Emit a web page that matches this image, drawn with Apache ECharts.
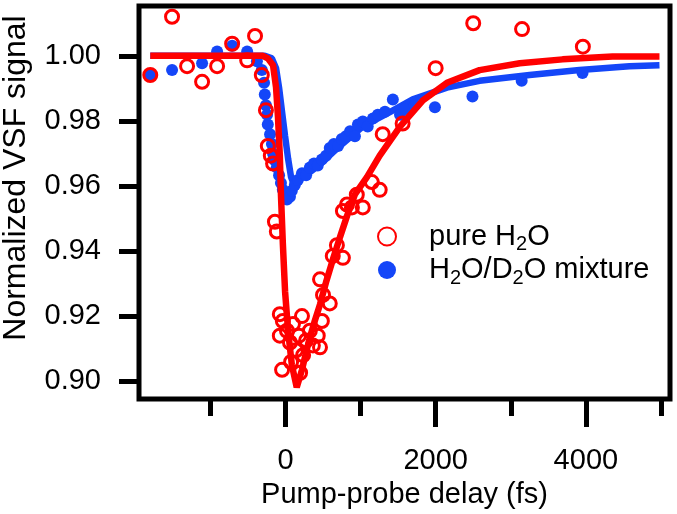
<!DOCTYPE html>
<html>
<head>
<meta charset="utf-8">
<script src="https://cdn.jsdelivr.net/npm/echarts@6/dist/echarts.min.js"></script>
<style>
html,body{margin:0;padding:0;background:#fff;}
#chart{width:677px;height:514px;}
</style>
</head>
<body>
<div id="chart"></div>
<script>
// ---- data ----
const pureX = [-1800,-1510,-1310,-1110,-910,-710,-510,-405,-315,-260,-235,-195,-165,-140,-115,-75,-35,-75,20,60,100,140,180,220,235,275,325,365,430,460,-45,195,75,485,460,500,590,630,685,765,765,820,885,950,1030,1150,1255,1295,1560,2000,2500,3150,3960];
const pureY = [0.9941,1.0120,0.9968,0.9920,0.9968,1.0037,0.9986,1.0061,0.9941,0.9833,0.9723,0.9693,0.9669,0.9490,0.9460,0.9206,0.9185,0.9140,0.9155,0.9119,0.9176,0.9095,0.9140,0.9200,0.9080,0.9125,0.9155,0.9110,0.9140,0.9104,0.9035,0.9026,0.9059,0.9185,0.9313,0.9265,0.9239,0.9385,0.9418,0.9379,0.9523,0.9543,0.9534,0.9573,0.9534,0.9612,0.9588,0.9759,0.9792,0.9962,1.0100,1.0082,1.0028];

const mixX = [-1800,-1510,-1110,-910,-710,-510,-380,-315,-285,-275,-260,-245,-235,-205,-180,-165,-140,-115,-85,-60,-35,-5,20,60,85,125,165,220,275,325,380,430,485,540,590,645,700,750,805,860,925,965,1030,1095,1165,1230,1325,1430,1525,1590,1720,1990,2490,3145,3955];
const mixY = [0.9941,0.9956,0.9977,1.0013,1.0031,1.0013,0.9983,0.9956,0.9917,0.9881,0.9848,0.9819,0.9789,0.9759,0.9729,0.9699,0.9678,0.9657,0.9633,0.9609,0.9588,0.9573,0.9558,0.9567,0.9585,0.9603,0.9618,0.9639,0.9633,0.9657,0.9669,0.9663,0.9681,0.9693,0.9717,0.9729,0.9723,0.9744,0.9753,0.9768,0.9753,0.9789,0.9798,0.9783,0.9807,0.9819,0.9828,0.9866,0.9819,0.9836,0.9848,0.9842,0.9875,0.9923,0.9947];

const pureFitX = [-1800,-300,-235,-165,-125,-100,-75,-60,-35,-5,35,85,150,220,275,325,390,460,540,630,725,820,925,1085,1255,1525,1830,2150,2585,3120,3690,4355,4980];
const pureFitY = [1.0000,1.0000,0.9992,0.9971,0.9902,0.9813,0.9693,0.9573,0.9424,0.9275,0.9155,0.9050,0.8981,0.9035,0.9089,0.9134,0.9185,0.9236,0.9304,0.9373,0.9442,0.9508,0.9574,0.9627,0.9693,0.9782,0.9863,0.9917,0.9956,0.9977,0.9989,0.9998,0.9998];

const mixFitX = [-1800,-275,-180,-125,-85,-45,-5,35,75,115,195,325,460,725,1030,1390,1695,2150,2585,3250,3915,4580,4980];
const mixFitY = [1.0000,1.0000,0.9992,0.9962,0.9902,0.9827,0.9753,0.9684,0.9627,0.9603,0.9621,0.9642,0.9666,0.9723,0.9783,0.9827,0.9866,0.9902,0.9923,0.9941,0.9956,0.9968,0.9971];

const xMajorTicks = [0, 2000, 4000];
const xMinorTicks = [-1000, 1000, 3000, 5000];
const yTicks = [0.90, 0.92, 0.94, 0.96, 0.98, 1.00];
const seriesNames = ['pure H2O', 'H2O/D2O mixture'];
const legendLabels = {
  'pure H2O': '{n|pure H}{s|2}{n|O}',
  'H2O/D2O mixture': '{n|H}{s|2}{n|O/D}{s|2}{n|O mixture}'
};

const RED = '#ff0000';
const BLUE = '#1446f8';
const FONT = 'Liberation Sans';

const zip = (a, b) => a.map((v, i) => [v, b[i]]);

const X_MIN = -1950, X_MAX = 5120, Y_MIN = 0.8945, Y_MAX = 1.0153;

const chart = echarts.init(document.getElementById('chart'), null, {renderer: 'canvas'});
chart.setOption({
  animation: false,
  backgroundColor: '#fff',
  grid: {left: 139, top: 6, right: 7, bottom: 104, show: true, borderColor: '#000', borderWidth: 5, backgroundColor: 'transparent'},
  xAxis: [{
    type: 'value', min: X_MIN, max: X_MAX, position: 'bottom',
    axisLine: {show: false, onZero: false},
    splitLine: {show: false},
    axisTick: {show: true, customValues: xMajorTicks, length: 28, lineStyle: {color: '#000', width: 5}},
    axisLabel: {customValues: xMajorTicks, margin: 47, color: '#000', fontSize: 29, fontFamily: FONT,
      formatter: v => String(v)},
    name: 'Pump-probe delay (fs)', nameLocation: 'middle', nameGap: 77,
    nameTextStyle: {color: '#000', fontSize: 29, fontFamily: FONT}
  }, {
    type: 'value', min: X_MIN, max: X_MAX, position: 'bottom',
    axisLine: {show: false, onZero: false}, splitLine: {show: false},
    axisTick: {show: true, customValues: xMinorTicks, length: 17, lineStyle: {color: '#000', width: 5}},
    axisLabel: {show: false}
  }],
  yAxis: {
    type: 'value', min: Y_MIN, max: Y_MAX, position: 'left',
    axisLine: {show: false, onZero: false}, splitLine: {show: false},
    axisTick: {show: true, customValues: yTicks, length: 20, lineStyle: {color: '#000', width: 5}},
    axisLabel: {customValues: yTicks, margin: 38, color: '#000', fontSize: 29, fontFamily: FONT,
      formatter: v => v.toFixed(2)}
  },
  legend: {
    orient: 'vertical', left: 372, top: 217, itemGap: 1,
    itemWidth: 74, itemHeight: 18,
    data: seriesNames,
    formatter: name => legendLabels[name],
    textStyle: {
      color: '#000', fontFamily: FONT,
      rich: {
        n: {fontSize: 29, lineHeight: 36, fontFamily: FONT, color: '#000', verticalAlign: 'middle'},
        s: {fontSize: 20, lineHeight: 20, fontFamily: FONT, color: '#000', verticalAlign: 'bottom'}
      }
    }
  },
  graphic: [{
    type: 'text', x: 16, y: 178, rotation: Math.PI / 2,
    style: {text: 'Normalized VSF signal', fill: '#000', font: '32px "' + FONT + '"', align: 'center', verticalAlign: 'middle'}
  }],
  series: [
    {name: 'fitMix', type: 'line', data: zip(mixFitX, mixFitY), showSymbol: false, symbol: 'none',
      lineStyle: {color: BLUE, width: 6.5}, z: 1, silent: true},
    {name: seriesNames[1], type: 'scatter', data: zip(mixX, mixY), symbol: 'circle', symbolSize: 12,
      itemStyle: {color: BLUE, opacity: 1}, z: 2},
    {name: seriesNames[0], type: 'scatter', data: zip(pureX, pureY), symbol: 'circle', symbolSize: 13,
      itemStyle: {color: 'rgba(255,255,255,0)', borderColor: RED, borderWidth: 3, opacity: 1}, z: 3},
    {name: 'fitPure', type: 'line', data: zip(pureFitX, pureFitY), showSymbol: false, symbol: 'none',
      lineStyle: {color: RED, width: 6.5}, z: 4, silent: true}
  ]
});
</script>
</body>
</html>
